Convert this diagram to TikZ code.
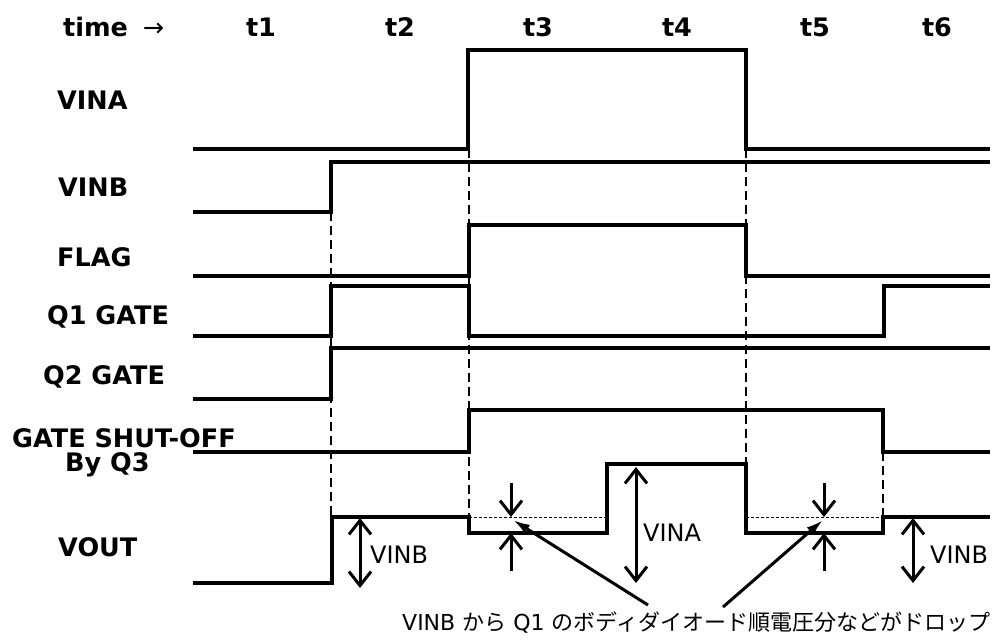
\documentclass[tikz,border=0pt]{standalone}
\usepackage{fontspec}
\setmainfont{DejaVu Sans}
\newfontfamily\cjk{Noto Sans CJK JP}
\usepackage{tikz}
\usetikzlibrary{arrows.meta}

\begin{document}
\begin{tikzpicture}[x=1pt,y=-1pt,
  wave/.style={line width=4pt},
  guide/.style={line width=2.5pt,dash pattern=on 9pt off 5pt},
  lvl/.style={line width=0.9pt,dash pattern=on 3pt off 2pt},
  barb/.tip={Straight Barb[length=14pt,width=22pt]},
  dbl/.style={line width=3pt,barb-barb},
  arr/.style={line width=3pt,-barb},
  ptr/.style={line width=3pt,-{Latex[length=17pt,width=10pt]}},
  sig/.style={anchor=west,inner sep=0pt,font=\fontsize{25.5}{28}\selectfont\bfseries},
  lab/.style={anchor=west,inner sep=0pt,font=\fontsize{24}{28}\selectfont}]
  \useasboundingbox (0,0) rectangle (997,641);
  %% header
  \node[sig] (time) at (63,27) {time\hspace{15pt}{\mdseries →}};
  \foreach \n/\x in {1/261,2/400,3/538,4/677,5/815,6/937}
    \node[sig,anchor=center] (t\n) at (\x,27) {t\n};
  %% signal names
  \node[sig] (vina)  at (57,100) {VINA};
  \node[sig] (vinb)  at (58,187) {VINB};
  \node[sig] (flag)  at (57,257) {FLAG};
  \node[sig] (qone)  at (47,317) {Q1 GATE};
  \node[sig] (qtwo)  at (43,377) {Q2 GATE};
  \node[sig] (shut)  at (12,438) {GATE SHUT-OFF};
  \node[sig] (byq)   at (65,465) {By Q3};
  \node[sig] (vout)  at (58,547) {VOUT};
  %% edge guides
  \draw[guide] (331,212)--(331,517);
  \draw[guide] (469,149)--(469,517);
  \draw[guide] (746,149)--(746,464);
  \draw[guide] (883,452)--(883,517);
  % drop levels
  \draw[lvl] (469,517)--(607,517);
  \draw[lvl] (746,517)--(883,517);
  %% waveforms
  % VINA
  \draw[wave] (193,149)--(468,149)--(468,50)--(746,50)--(746,149)--(990,149);
  % VINB
  \draw[wave] (193,212)--(331,212)--(331,162)--(990,162);
  % FLAG
  \draw[wave] (193,276)--(469,276)--(469,225)--(746,225)--(746,276)--(990,276);
  % Q1 GATE
  \draw[wave] (193,336)--(331,336)--(331,286)--(469,286)--(469,336)
    --(884,336)--(884,286)--(990,286);
  % Q2 GATE
  \draw[wave] (193,399)--(331,399)--(331,348)--(990,348);
  % GATE SHUT-OFF
  \draw[wave] (193,452)--(469,452)--(469,410)--(883,410)--(883,452)--(990,452);
  % VOUT
  \draw[wave] (193,583)--(332,583)--(332,517)--(469,517)--(469,533)--(607,533)
    --(607,464)--(746,464)--(746,533)--(883,533)--(883,517)--(990,517);
  %% level arrows
  \draw[dbl] (360,518)--(360,588);
  \node[lab] (lvinb) at (370,555) {VINB};
  \draw[dbl] (636,467)--(636,583);
  \node[lab] (lvina) at (643,533) {VINA};
  \draw[dbl] (913,518)--(913,583);
  \node[lab] (lvinbr) at (930,555) {VINB};
  % drop marks
  \foreach \x in {511,824}{
    \draw[arr] (\x,483)--(\x,517);
    \draw[arr] (\x,571)--(\x,533);
  }
  %% note
  \node[anchor=west,inner sep=0pt,font=\fontsize{22}{26}\selectfont] (note) at (402,623)
    {VINB {\cjk から} Q1 {\cjk のボディダイオード順電圧分などがドロップ}};
  \coordinate (pa) at (648,605);
  \coordinate (pb) at (723,607);
  \coordinate (da) at (513,520);
  \coordinate (db) at (823,520);
  \draw[ptr] (pa)--(da);
  \draw[ptr] (pb)--(db);
\end{tikzpicture}
\end{document}
